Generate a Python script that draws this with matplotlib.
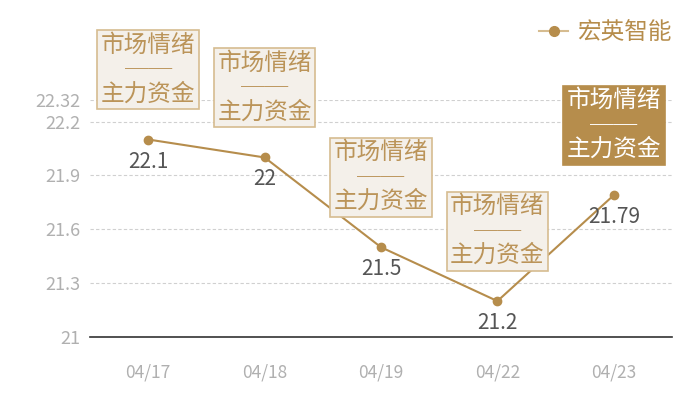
import matplotlib
matplotlib.use("Agg")
import matplotlib.pyplot as plt
from matplotlib.lines import Line2D

plt.rcParams["font.family"] = ["Noto Sans CJK SC", "DejaVu Sans"]

dates = ["04/17", "04/18", "04/19", "04/22", "04/23"]
prices = [22.1, 22.0, 21.5, 21.2, 21.79]
value_labels = ["22.1", "22", "21.5", "21.2", "21.79"]
y_ticks = [21, 21.3, 21.6, 21.9, 22.2, 22.32]
y_tick_labels = ["21", "21.3", "21.6", "21.9", "22.2", "22.32"]
highlight = [False, False, False, False, True]
series_name = "宏英智能"
box_text = "市场情绪\n──\n主力资金"

GOLD = "#b68d4c"
BOX_FACE = "#f4f0ea"
BOX_EDGE = "#d6bc90"
TICK_GRAY = "#b0b0b0"
LABEL_GRAY = "#555555"

fig = plt.figure(figsize=(7, 4), dpi=100)
ax = fig.add_axes([90 / 700, 63 / 400, 582 / 700, 237 / 400])

x = list(range(len(dates)))
ax.plot(x, prices, color=GOLD, linewidth=1.5, marker="o", markersize=6,
        markerfacecolor=GOLD, markeredgecolor=GOLD, zorder=3)

ax.set_xlim(-0.5, len(dates) - 0.5)
ax.set_ylim(y_ticks[0], y_ticks[-1])
ax.set_xticks(x)
ax.set_xticklabels(dates)
ax.set_yticks(y_ticks)
ax.set_yticklabels(y_tick_labels)
ax.tick_params(axis="both", length=0, labelcolor=TICK_GRAY, labelsize=13)
ax.tick_params(axis="x", pad=19, labelsize=12.5)
ax.tick_params(axis="y", pad=7)
ax.grid(axis="y", linestyle=(0, (3, 2)), color="#d0d0d0", linewidth=0.8)
ax.set_axisbelow(True)
for side in ("top", "right", "left"):
    ax.spines[side].set_visible(False)
ax.spines["bottom"].set_color("#333333")
ax.spines["bottom"].set_linewidth(1.2)
ax.spines["bottom"].set_zorder(4)

for xi, yi, lab, hl in zip(x, prices, value_labels, highlight):
    ax.annotate(lab, (xi, yi), xytext=(0, -22), textcoords="offset pixels",
                ha="center", va="center", fontsize=15, color=LABEL_GRAY, zorder=5)
    face = GOLD if hl else BOX_FACE
    edge = GOLD if hl else BOX_EDGE
    tcolor = "white" if hl else "#bb9459"
    ax.annotate(box_text, (xi, yi), xytext=(0, 70), textcoords="offset pixels",
                ha="center", va="center", fontsize=17, color=tcolor,
                linespacing=1.08, annotation_clip=False, zorder=6,
                bbox=dict(boxstyle="square,pad=0.15", facecolor=face,
                          edgecolor=edge, linewidth=1.2))

handle = Line2D([], [], color=BOX_EDGE, linewidth=1.5, marker="o",
                markersize=7, markerfacecolor=GOLD, markeredgecolor=GOLD)
fig.legend([handle], [series_name], loc="upper right", bbox_to_anchor=(0.99, 1.0),
           frameon=False, fontsize=17, labelcolor=GOLD, handlelength=1.2,
           handletextpad=0.4)

fig.savefig("out.png", dpi=100)
